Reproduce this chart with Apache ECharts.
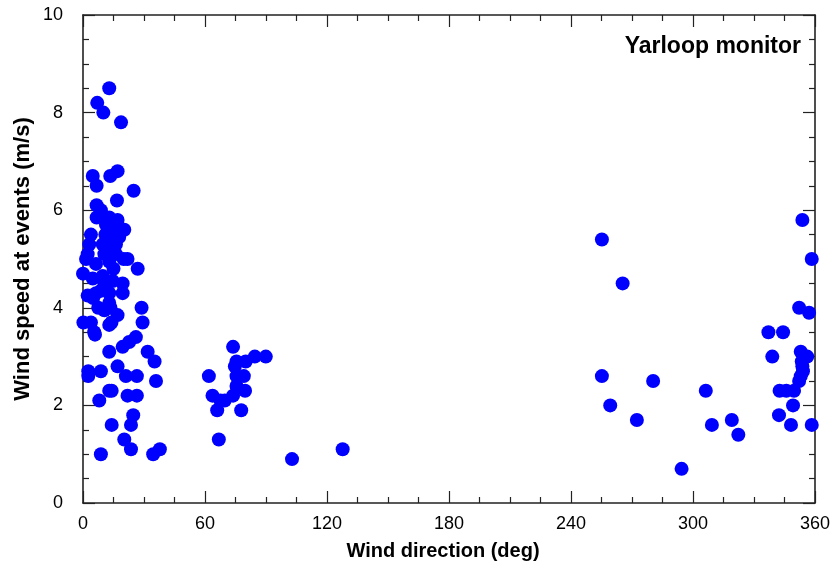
<!DOCTYPE html>
<html>
<head>
<meta charset="utf-8">
<title>Yarloop monitor</title>
<script src="https://cdn.jsdelivr.net/npm/echarts@6/dist/echarts.min.js"></script>
<style>
  html, body { margin: 0; padding: 0; background: #fff; }
  #chart { width: 833px; height: 565px; }
</style>
</head>
<body>
<div id="chart"></div>
<script>
// Wind direction (deg) and wind speed (m/s) recorded at each event.
// Northerly events (0-40 deg)
const northDir = [
  12.9, 7.0, 10.0, 18.7,
  4.8, 13.4, 17.0, 24.9, 6.7,
  16.7, 6.7, 8.8, 6.7, 12.9, 17.0,
  20.3, 3.9, 11.3, 14.6, 17.8,
  3.1, 9.7, 16.2, 2.3,
  1.5, 11.3, 16.2, 21.9, 6.4, 12.9,
  26.9, 0.0, 9.7, 4.8, 14.6, 19.5,
  8.8, 19.5, 2.3, 12.9, 6.4,
  12.9, 10.5, 17.0, 28.8,
  0.2, 3.9, 12.9, 29.3,
  5.9, 5.5, 26.0, 22.7, 19.5,
  12.9, 31.8, 35.2,
  2.6, 2.6, 8.8, 17.0, 21.1, 26.5, 35.9,
  12.9, 14.1, 8.0, 21.9, 26.5,
  24.7, 23.6, 14.1, 20.3, 23.6, 8.8, 34.5, 37.8,
  14.5, 11.0, 15.0, 10.5, 13.5, 7.5, 14.0, 5.0, 20.0, 10.5, 14.0
];
const northSpeed = [
  8.5, 8.2, 8.0, 7.8,
  6.7, 6.7, 6.8, 6.4, 6.5,
  6.2, 6.1, 6.0, 5.85, 5.85, 5.8,
  5.6, 5.5, 5.7, 5.6, 5.45,
  5.3, 5.3, 5.3, 5.1,
  5.0, 5.15, 5.1, 5.0, 4.9, 4.95,
  4.8, 4.7, 4.65, 4.6, 4.55, 4.5,
  4.35, 4.3, 4.25, 4.3, 4.3,
  4.1, 3.95, 3.85, 4.0,
  3.7, 3.7, 3.65, 3.7,
  3.45, 3.5, 3.4, 3.3, 3.2,
  3.1, 3.1, 2.9,
  2.7, 2.6, 2.7, 2.8, 2.6, 2.6, 2.5,
  2.3, 2.3, 2.1, 2.2, 2.2,
  1.8, 1.6, 1.6, 1.3, 1.1, 1.0, 1.0, 1.1,
  5.4, 5.5, 4.8, 4.5, 4.0, 4.0, 3.7, 4.2, 5.0, 5.1, 5.2
];
// Easterly events (60-130 deg)
const eastDir = [
  73.8, 75.5, 80.0, 84.5, 89.9, 74.7, 61.9, 75.5, 79.1,
  75.5, 79.7, 63.7, 69.7, 73.8, 67.6, 66.0, 77.8, 66.8,
  102.8, 127.7
];
const eastSpeed = [
  3.2, 2.9, 2.9, 3.0, 3.0, 2.8, 2.6, 2.6, 2.6,
  2.4, 2.3, 2.2, 2.1, 2.2, 2.1, 1.9, 1.9, 1.3,
  0.9, 1.1
];
// Westerly / north-westerly events (250-360 deg)
const westDir = [
  353.8, 358.4, 255.2, 265.4, 352.2, 357.1, 337.1, 344.3,
  353.0, 356.2, 353.5, 353.8, 354.1, 353.0, 352.2, 339.0,
  255.2, 280.4, 306.3, 342.6, 345.9, 349.7, 349.2, 259.3,
  342.3, 272.4, 319.1, 309.3, 348.2, 358.4, 322.3, 294.4
];
const westSpeed = [
  5.8, 5.0, 5.4, 4.5, 4.0, 3.9, 3.5, 3.5,
  3.1, 3.0, 2.9, 2.8, 2.7, 2.6, 2.5, 3.0,
  2.6, 2.5, 2.3, 2.3, 2.3, 2.3, 2.0, 2.0,
  1.8, 1.7, 1.7, 1.6, 1.6, 1.6, 1.4, 0.7
];

const xTicks = [0, 360, 60];   // min, max, interval
const yTicks = [0, 10, 2];

const pairs = (xs, ys) => xs.map((x, i) => [x, ys[i]]);
const points = pairs(northDir, northSpeed)
  .concat(pairs(eastDir, eastSpeed))
  .concat(pairs(westDir, westSpeed));

const font = "'Liberation Sans', Arial, sans-serif";
const lineStyle = { color: '#222', width: 1.6 };

function xAxisDef(pos, showLabel) {
  return {
    type: 'value', position: pos,
    min: xTicks[0], max: xTicks[1], interval: xTicks[2],
    axisLine: { show: true, onZero: false, lineStyle },
    axisTick: { show: true, inside: true, length: 12, lineStyle: { color: '#222', width: 1.2 } },
    minorTick: { show: true, splitNumber: 4, length: 6, lineStyle: { color: '#222', width: 1.2 } },
    splitLine: { show: false },
    minorSplitLine: { show: false },
    axisLabel: { show: showLabel, fontSize: 18, color: '#000', fontFamily: font, margin: 12 }
  };
}
function yAxisDef(pos, showLabel) {
  return {
    type: 'value', position: pos,
    min: yTicks[0], max: yTicks[1], interval: yTicks[2],
    axisLine: { show: true, onZero: false, lineStyle },
    axisTick: { show: true, inside: true, length: 12, lineStyle: { color: '#222', width: 1.2 } },
    minorTick: { show: true, splitNumber: 4, length: 6, lineStyle: { color: '#222', width: 1.2 } },
    splitLine: { show: false },
    minorSplitLine: { show: false },
    axisLabel: { show: showLabel, fontSize: 18, color: '#000', fontFamily: font, margin: 20 }
  };
}

const chart = echarts.init(document.getElementById('chart'), null, { renderer: 'canvas' });
chart.setOption({
  animation: false,
  backgroundColor: '#fff',
  grid: { left: 83, right: 17, top: 15, bottom: 62, containLabel: false },
  xAxis: [xAxisDef('bottom', true), xAxisDef('top', false)],
  yAxis: [yAxisDef('left', true), yAxisDef('right', false)],
  graphic: [
    {
      type: 'text', x: 443, y: 551,
      style: { text: 'Wind direction (deg)', font: "bold 20px 'Liberation Sans', Arial, sans-serif", fill: '#000', textAlign: 'center', textVerticalAlign: 'middle' }
    },
    {
      type: 'text', rotation: Math.PI / 2, x: 23, y: 259,
      style: { text: 'Wind speed at events (m/s)', font: "bold 22px 'Liberation Sans', Arial, sans-serif", fill: '#000', textAlign: 'center', textVerticalAlign: 'middle' }
    },
    {
      type: 'text', x: 801, y: 47,
      style: { text: 'Yarloop monitor', font: "bold 23px 'Liberation Sans', Arial, sans-serif", fill: '#000', textAlign: 'right', textVerticalAlign: 'middle' }
    }
  ],
  series: [{
    type: 'scatter',
    xAxisIndex: 0, yAxisIndex: 0,
    symbol: 'circle', symbolSize: 14,
    clip: false,
    itemStyle: { color: '#0000ff', opacity: 1 },
    data: points
  }]
});
</script>
</body>
</html>
